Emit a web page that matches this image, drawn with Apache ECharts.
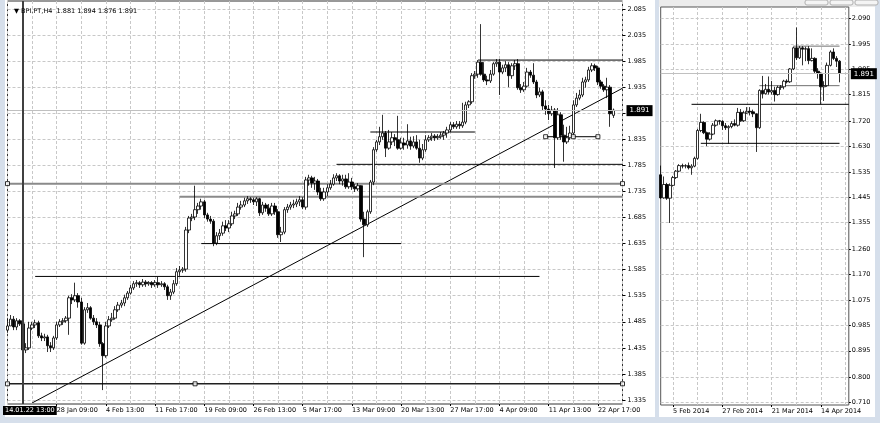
<!DOCTYPE html>
<html><head><meta charset="utf-8">
<script src="https://cdn.jsdelivr.net/npm/echarts@6/dist/echarts.min.js"></script>
<style>html,body{margin:0;padding:0;background:#d6dfeb;}#c{width:880px;height:423px;}</style>
</head><body><div id="c"></div>
<script>
// ---------------- data ----------------
const symbolTitle = 'BPI.PT,H4';
const headerOHLC = [1.881, 1.894, 1.876, 1.891];
const bidPrice = 1.891;

const tradingDays = [
 '2014-01-20','2014-01-21','2014-01-22','2014-01-23','2014-01-24','2014-01-27','2014-01-28','2014-01-29','2014-01-30','2014-01-31',
 '2014-02-03','2014-02-04','2014-02-05','2014-02-06','2014-02-07','2014-02-10','2014-02-11','2014-02-12','2014-02-13','2014-02-14',
 '2014-02-17','2014-02-18','2014-02-19','2014-02-20','2014-02-21','2014-02-24','2014-02-25','2014-02-26','2014-02-27','2014-02-28',
 '2014-03-03','2014-03-04','2014-03-05','2014-03-06','2014-03-07','2014-03-10','2014-03-11','2014-03-12','2014-03-13','2014-03-14',
 '2014-03-17','2014-03-18','2014-03-19','2014-03-20','2014-03-21','2014-03-24','2014-03-25','2014-03-26','2014-03-27','2014-03-28',
 '2014-03-31','2014-04-01','2014-04-02','2014-04-03','2014-04-04','2014-04-07','2014-04-08','2014-04-09','2014-04-10','2014-04-11',
 '2014-04-14','2014-04-15','2014-04-16','2014-04-17','2014-04-22','2014-04-23','2014-04-24'
];
const h4Hours = ['09:00','13:00','17:00'];
const dailyFirstDay = '2014-01-30';

const leftTickLabels = ['28 Jan 09:00','4 Feb 13:00','11 Feb 17:00','19 Feb 09:00','26 Feb 13:00','5 Mar 17:00',
  '13 Mar 09:00','20 Mar 13:00','27 Mar 17:00','4 Apr 09:00','11 Apr 13:00','22 Apr 17:00'];
const rightTickLabels = ['5 Feb 2014','27 Feb 2014','21 Mar 2014','14 Apr 2014'];
const leftPriceTicks = [1.335,1.385,1.435,1.485,1.535,1.585,1.635,1.685,1.735,1.785,1.835,1.885,1.935,1.985,2.035,2.085];
const rightPriceTicks = [0.710,0.800,0.895,0.985,1.075,1.170,1.260,1.355,1.445,1.535,1.630,1.720,1.815,1.905,1.995,2.090];

// H4 bars: [open, close, low, high]
const h4OHLC = [
[1.469,1.477,1.464,1.492],[1.477,1.490,1.477,1.498],[1.490,1.475,1.469,1.496],[1.475,1.487,1.469,1.492],[1.487,1.481,1.477,1.490],
[1.481,1.431,1.400,1.485],[1.431,1.435,1.425,1.444],[1.435,1.473,1.431,1.485],[1.473,1.479,1.469,1.485],[1.479,1.483,1.473,1.489],
[1.483,1.458,1.454,1.487],[1.458,1.454,1.448,1.464],[1.454,1.456,1.448,1.462],[1.456,1.439,1.427,1.460],[1.439,1.435,1.427,1.446],
[1.435,1.454,1.431,1.458],[1.454,1.479,1.450,1.485],[1.479,1.485,1.475,1.490],[1.485,1.487,1.479,1.492],[1.487,1.492,1.483,1.496],
[1.492,1.531,1.460,1.535],[1.531,1.527,1.519,1.538],[1.527,1.535,1.523,1.560],[1.535,1.523,1.512,1.540],[1.523,1.444,1.441,1.531],
[1.444,1.508,1.441,1.513],[1.508,1.512,1.502,1.521],[1.512,1.492,1.489,1.515],[1.492,1.485,1.479,1.498],[1.485,1.479,1.473,1.492],
[1.479,1.443,1.437,1.485],[1.443,1.420,1.354,1.446],[1.420,1.477,1.416,1.485],[1.477,1.489,1.473,1.496],[1.489,1.492,1.485,1.502],
[1.492,1.508,1.489,1.515],[1.508,1.517,1.504,1.523],[1.517,1.521,1.512,1.527],[1.521,1.531,1.515,1.537],[1.531,1.540,1.527,1.544],
[1.540,1.550,1.537,1.556],[1.550,1.558,1.546,1.563],[1.558,1.560,1.552,1.565],[1.560,1.556,1.550,1.563],[1.556,1.561,1.552,1.567],
[1.561,1.558,1.552,1.565],[1.558,1.560,1.554,1.563],[1.560,1.556,1.550,1.563],[1.556,1.560,1.552,1.565],[1.560,1.556,1.550,1.571],
[1.556,1.558,1.552,1.563],[1.558,1.552,1.546,1.561],[1.552,1.535,1.527,1.556],[1.535,1.542,1.527,1.548],[1.542,1.558,1.538,1.565],
[1.558,1.581,1.554,1.588],[1.581,1.584,1.573,1.592],[1.584,1.586,1.579,1.590],[1.586,1.661,1.581,1.667],[1.661,1.684,1.655,1.688],
[1.684,1.686,1.678,1.692],[1.686,1.700,1.680,1.746],[1.700,1.707,1.692,1.713],[1.707,1.715,1.700,1.721],[1.715,1.690,1.684,1.719],
[1.690,1.682,1.677,1.694],[1.682,1.678,1.673,1.688],[1.678,1.636,1.630,1.682],[1.636,1.650,1.632,1.657],[1.650,1.655,1.642,1.663],
[1.655,1.669,1.650,1.677],[1.669,1.665,1.659,1.680],[1.665,1.673,1.657,1.680],[1.673,1.688,1.669,1.696],[1.688,1.692,1.682,1.698],
[1.692,1.705,1.688,1.713],[1.705,1.709,1.700,1.717],[1.709,1.717,1.705,1.723],[1.717,1.721,1.711,1.726],[1.721,1.719,1.713,1.724],
[1.719,1.715,1.709,1.723],[1.715,1.721,1.707,1.724],[1.721,1.694,1.688,1.723],[1.694,1.709,1.690,1.715],[1.709,1.703,1.696,1.713],
[1.703,1.692,1.688,1.711],[1.692,1.707,1.688,1.713],[1.707,1.696,1.690,1.713],[1.696,1.652,1.646,1.701],[1.652,1.657,1.638,1.667],
[1.657,1.700,1.653,1.705],[1.700,1.705,1.694,1.711],[1.705,1.709,1.700,1.715],[1.709,1.711,1.703,1.719],[1.711,1.715,1.705,1.721],
[1.715,1.719,1.707,1.726],[1.719,1.705,1.701,1.724],[1.705,1.757,1.700,1.763],[1.757,1.761,1.746,1.767],[1.761,1.751,1.742,1.765],
[1.751,1.755,1.738,1.763],[1.755,1.734,1.728,1.759],[1.734,1.721,1.717,1.742],[1.721,1.734,1.717,1.742],[1.734,1.742,1.726,1.749],
[1.742,1.749,1.738,1.757],[1.749,1.761,1.746,1.768],[1.761,1.765,1.755,1.770],[1.765,1.755,1.749,1.768],[1.755,1.759,1.746,1.767],
[1.759,1.744,1.740,1.767],[1.744,1.753,1.740,1.770],[1.753,1.744,1.738,1.761],[1.744,1.740,1.734,1.749],[1.740,1.746,1.736,1.751],
[1.746,1.682,1.677,1.747],[1.682,1.671,1.609,1.696],[1.671,1.696,1.667,1.700],[1.696,1.753,1.692,1.757],[1.753,1.815,1.747,1.820],
[1.815,1.830,1.811,1.834],[1.830,1.840,1.824,1.859],[1.840,1.847,1.834,1.882],[1.847,1.818,1.801,1.851],[1.818,1.830,1.815,1.853],
[1.830,1.838,1.824,1.849],[1.838,1.834,1.822,1.845],[1.834,1.818,1.815,1.880],[1.818,1.828,1.815,1.838],[1.828,1.824,1.815,1.838],
[1.824,1.832,1.817,1.864],[1.832,1.822,1.815,1.840],[1.822,1.830,1.818,1.841],[1.830,1.818,1.815,1.843],[1.818,1.799,1.790,1.834],
[1.799,1.815,1.795,1.826],[1.815,1.834,1.811,1.843],[1.834,1.838,1.830,1.843],[1.838,1.841,1.832,1.847],[1.841,1.838,1.832,1.845],
[1.838,1.840,1.834,1.845],[1.840,1.843,1.836,1.849],[1.843,1.847,1.834,1.851],[1.847,1.853,1.838,1.859],[1.853,1.863,1.849,1.868],
[1.863,1.859,1.855,1.868],[1.859,1.864,1.855,1.870],[1.864,1.861,1.855,1.870],[1.861,1.868,1.857,1.905],[1.868,1.901,1.864,1.907],
[1.901,1.907,1.895,1.910],[1.907,1.957,1.903,1.962],[1.957,1.960,1.951,1.966],[1.960,1.983,1.953,1.987],[1.983,1.960,1.957,2.056],
[1.960,1.949,1.945,1.983],[1.949,1.947,1.939,1.957],[1.947,1.960,1.943,1.968],[1.960,1.980,1.957,1.983],[1.980,1.983,1.974,1.989],
[1.983,1.964,1.920,1.989],[1.964,1.972,1.960,1.978],[1.972,1.978,1.964,1.985],[1.978,1.957,1.935,1.983],[1.957,1.976,1.951,1.981],
[1.976,1.980,1.968,1.987],[1.980,1.934,1.930,1.989],[1.934,1.930,1.924,1.941],[1.930,1.937,1.926,1.945],[1.937,1.964,1.934,1.972],
[1.964,1.958,1.953,1.968],[1.958,1.945,1.941,1.981],[1.945,1.920,1.914,1.949],[1.920,1.926,1.916,1.934],[1.926,1.899,1.891,1.930],
[1.899,1.893,1.882,1.910],[1.893,1.884,1.872,1.901],[1.884,1.891,1.880,1.899],[1.891,1.838,1.780,1.895],[1.838,1.882,1.834,1.895],
[1.882,1.843,1.834,1.887],[1.843,1.830,1.792,1.863],[1.830,1.838,1.826,1.859],[1.838,1.847,1.834,1.861],[1.847,1.901,1.843,1.910],
[1.901,1.914,1.897,1.924],[1.914,1.920,1.910,1.930],[1.920,1.945,1.916,1.953],[1.945,1.949,1.934,1.955],[1.949,1.968,1.945,1.974],
[1.968,1.976,1.964,1.981],[1.976,1.972,1.966,1.980],[1.972,1.945,1.939,1.976],[1.945,1.937,1.932,1.949],[1.937,1.930,1.926,1.941],
[1.930,1.935,1.914,1.953],[1.935,1.884,1.859,1.939],[1.881,1.891,1.876,1.894]
];

// Daily bars: [open, close, low, high]
const dailyOHLC = [
[1.527,1.444,1.441,1.560],[1.444,1.492,1.441,1.521],[1.492,1.443,1.437,1.498],[1.443,1.489,1.354,1.496],[1.489,1.517,1.485,1.523],
[1.517,1.540,1.512,1.544],[1.540,1.560,1.537,1.565],[1.560,1.558,1.550,1.567],[1.558,1.560,1.550,1.565],[1.560,1.552,1.546,1.571],
[1.552,1.558,1.527,1.565],[1.558,1.586,1.554,1.592],[1.586,1.686,1.581,1.692],[1.686,1.715,1.680,1.746],[1.715,1.678,1.673,1.719],
[1.678,1.655,1.630,1.682],[1.655,1.673,1.650,1.680],[1.673,1.705,1.669,1.713],[1.705,1.721,1.700,1.726],[1.721,1.719,1.707,1.724],
[1.719,1.703,1.688,1.723],[1.703,1.696,1.688,1.713],[1.696,1.700,1.638,1.705],[1.700,1.711,1.694,1.719],[1.711,1.705,1.701,1.726],
[1.705,1.751,1.700,1.767],[1.751,1.721,1.717,1.763],[1.721,1.749,1.717,1.757],[1.749,1.755,1.746,1.770],[1.755,1.753,1.740,1.770],
[1.753,1.746,1.734,1.761],[1.746,1.696,1.609,1.747],[1.696,1.830,1.692,1.834],[1.830,1.818,1.801,1.882],[1.818,1.834,1.815,1.853],
[1.834,1.824,1.815,1.880],[1.824,1.830,1.815,1.864],[1.830,1.815,1.790,1.843],[1.815,1.841,1.811,1.847],[1.841,1.843,1.832,1.849],
[1.843,1.863,1.834,1.868],[1.863,1.861,1.855,1.870],[1.861,1.907,1.857,1.910],[1.907,1.983,1.903,1.987],[1.983,1.947,1.939,2.056],
[1.947,1.983,1.943,1.989],[1.983,1.978,1.920,1.989],[1.978,1.980,1.935,1.987],[1.980,1.937,1.924,1.989],[1.937,1.945,1.934,1.981],
[1.945,1.899,1.891,1.949],[1.899,1.891,1.872,1.910],[1.891,1.843,1.780,1.895],[1.843,1.847,1.792,1.863],[1.847,1.920,1.843,1.930],
[1.920,1.968,1.916,1.974],[1.968,1.945,1.939,1.981],[1.945,1.935,1.914,1.953],[1.935,1.891,1.859,1.939]
];

// chart objects (prices and bar indices)
const cursorTime = '2014-01-22 13:00';
const cursorLabel = '14.01.22 13:00';
const leftLevelsDark = [[1.987,153,200],[1.849,118,152],[1.787,107,200],[1.635,63,128],[1.572,9,173],[1.840,175,192]];
const leftLevelsGray = [[1.750,0,200],[1.725,56,200]];
const leftLevelBottom = [1.366,0,200];
const leftAnchors = [[0,1.750],[200,1.750],[0,1.366],[61,1.366],[200,1.366],[175,1.840],[184,1.840],[192,1.840]];
const trendLine = [[8,1.3293],[200,1.933]];
const rightLevelsGray = [[1.989,43,58],[1.847,32,58]];
const rightLevelsDark = [[1.780,10,61],[1.640,13,58]];

// ---------------- build ----------------
const MON = ['Jan','Feb','Mar','Apr','May','Jun','Jul','Aug','Sep','Oct','Nov','Dec'];
const leftCats = [];
tradingDays.forEach(d => h4Hours.forEach(h => leftCats.push(d + ' ' + h)));
const leftCategories = leftCats.slice(2, 2 + h4OHLC.length).concat(['pad1','pad2','pad3']);
const rightCategories = tradingDays.slice(tradingDays.indexOf(dailyFirstDay)).concat(['pad1','pad2','pad3']);
function fmtH4(c){ if(c.indexOf('-')<0) return ''; const p=c.split(' '); const d=p[0].split('-'); return (+d[2])+' '+MON[+d[1]-1]+' '+p[1]; }
function fmtDay(c){ if(c.indexOf('-')<0) return ''; const d=c.split('-'); return (+d[2])+' '+MON[+d[1]-1]+' '+d[0]; }

const FONT = 'DejaVu Sans';
const FS = 6.5;
const gridLine = {show:true, lineStyle:{color:'#c8c8c8', type:[3,2], width:1}};
const candleStyle = {color:'#ffffff', color0:'#000000', borderColor:'#000000', borderColor0:'#000000', borderColorDoji:'#000000', borderWidth:0.8};

function seg(lvl, xi, yi, color, width){
  return {type:'line', xAxisIndex:xi, yAxisIndex:yi, data:[[lvl[1],lvl[0]],[lvl[2],lvl[0]]], symbol:'none',
    lineStyle:{color:color, width:width}, silent:true, z:3};
}

const series = [
  {type:'candlestick', name:'H4', xAxisIndex:0, yAxisIndex:0, data:h4OHLC, barWidth:3, itemStyle:candleStyle, z:4,
    markLine:{silent:true, symbol:'none', animation:false, data:[
      {yAxis:bidPrice, lineStyle:{color:'#c0c0c0', width:1, type:'solid'},
        label:{show:true, position:'end', formatter:bidPrice.toFixed(3), backgroundColor:'#000', color:'#fff',
          fontFamily:FONT, fontSize:FS+0.5, padding:[2,3], distance:4}},
      {xAxis:cursorTime, lineStyle:{color:'#404040', width:2, type:'solid'},
        label:{show:true, position:'start', formatter:cursorLabel, backgroundColor:'#000', color:'#fff',
          fontFamily:FONT, fontSize:FS, padding:[1,2], distance:2, offset:[7,0]}}
    ]}},
  {type:'candlestick', name:'D1', xAxisIndex:1, yAxisIndex:1, data:dailyOHLC, barWidth:3, itemStyle:candleStyle, z:4,
    markLine:{silent:true, symbol:'none', animation:false, data:[
      {yAxis:bidPrice, lineStyle:{color:'#c0c0c0', width:1, type:'solid'},
        label:{show:true, position:'end', formatter:bidPrice.toFixed(3), backgroundColor:'#000', color:'#fff',
          fontFamily:FONT, fontSize:FS+0.5, padding:[2,3], distance:2}}
    ]}},
  {type:'line', xAxisIndex:0, yAxisIndex:0, data:trendLine, symbol:'none', lineStyle:{color:'#000', width:1}, silent:true, z:3}
];
leftLevelsDark.forEach(l => series.push(seg(l,0,0,'#000',1)));
leftLevelsGray.forEach(l => series.push(seg(l,0,0,'#8a8a8a',2)));
series.push(seg(leftLevelBottom,0,0,'#202020',1.5));
rightLevelsGray.forEach(l => series.push(seg(l,1,1,'#707070',1)));
rightLevelsDark.forEach(l => series.push(seg(l,1,1,'#000',1)));
series.push({type:'scatter', xAxisIndex:0, yAxisIndex:0, data:leftAnchors, symbol:'rect', symbolSize:4,
  itemStyle:{color:'#fff', borderColor:'#000', borderWidth:1}, silent:true, z:5});

const option = {
  animation:false,
  backgroundColor:'#d6dfeb',
  title:{text:'\u25BC ' + symbolTitle + '  ' + headerOHLC.map(v=>v.toFixed(3)).join(' '), left:9, top:3,
    textStyle:{fontFamily:FONT, fontSize:FS, fontWeight:'normal', color:'#000'}},
  graphic:[
    {type:'rect', shape:{x:5,y:0,width:650,height:417}, style:{fill:'#ffffff'}, z:-10, silent:true},
    {type:'rect', shape:{x:659,y:7,width:216,height:410}, style:{fill:'#ffffff'}, z:-10, silent:true},
    {type:'rect', shape:{x:659,y:0,width:216,height:7}, style:{fill:'#ececec'}, z:-10, silent:true},
    {type:'rect', shape:{x:805,y:0,width:23,height:5,r:2}, style:{fill:'#f4f4f4', stroke:'#b0b0b0'}, z:-9, silent:true},
    {type:'rect', shape:{x:830,y:0,width:23,height:5,r:2}, style:{fill:'#f4f4f4', stroke:'#b0b0b0'}, z:-9, silent:true},
    {type:'rect', shape:{x:855,y:0,width:23,height:5,r:2}, style:{fill:'#f4f4f4', stroke:'#b0b0b0'}, z:-9, silent:true}
  ],
  grid:[
    {left:7.5, top:1, width:615, height:403, show:true, borderColor:'#333', borderWidth:1, backgroundColor:'transparent'},
    {left:660.7, top:7, width:188.1, height:398, show:true, borderColor:'#555', borderWidth:1, backgroundColor:'transparent'}
  ],
  xAxis:[
    {type:'category', gridIndex:0, data:leftCategories, boundaryGap:false,
      axisLine:{show:false},
      axisTick:{show:true, length:2, interval:(i,v)=>leftTickLabels.indexOf(fmtH4(v))>=0, lineStyle:{color:'#000'}},
      axisLabel:{interval:(i,v)=>leftTickLabels.indexOf(fmtH4(v))>=0, formatter:v=>fmtH4(v), align:'left',
        fontFamily:FONT, fontSize:FS, color:'#000', margin:3},
      splitLine:Object.assign({interval:(i)=>i%8===0}, gridLine)},
    {type:'category', gridIndex:1, data:rightCategories, boundaryGap:false,
      axisLine:{show:false},
      axisTick:{show:true, length:2, interval:(i,v)=>rightTickLabels.indexOf(fmtDay(v))>=0, lineStyle:{color:'#000'}},
      axisLabel:{interval:(i,v)=>rightTickLabels.indexOf(fmtDay(v))>=0, formatter:v=>fmtDay(v), align:'left',
        fontFamily:FONT, fontSize:FS, color:'#000', margin:3},
      splitLine:Object.assign({interval:(i)=>i%8===4}, gridLine)}
  ],
  yAxis:[
    {type:'value', gridIndex:0, position:'right', min:1.3273, max:2.1003,
      axisLine:{show:false},
      axisTick:{show:true, length:3, customValues:leftPriceTicks, lineStyle:{color:'#000'}},
      axisLabel:{customValues:leftPriceTicks, formatter:v=>v.toFixed(3), fontFamily:FONT, fontSize:FS, color:'#000', margin:5},
      splitLine:gridLine},
    {type:'value', gridIndex:1, position:'right', min:0.7003, max:2.1295,
      axisLine:{show:false},
      axisTick:{show:true, length:2, customValues:rightPriceTicks, lineStyle:{color:'#000'}},
      axisLabel:{customValues:rightPriceTicks, formatter:v=>v.toFixed(3), fontFamily:FONT, fontSize:FS, color:'#000', margin:3},
      splitLine:gridLine}
  ],
  series:series
};
const chart = echarts.init(document.getElementById('c'), null, {renderer:'canvas'});
chart.setOption(option);
</script></body></html>
